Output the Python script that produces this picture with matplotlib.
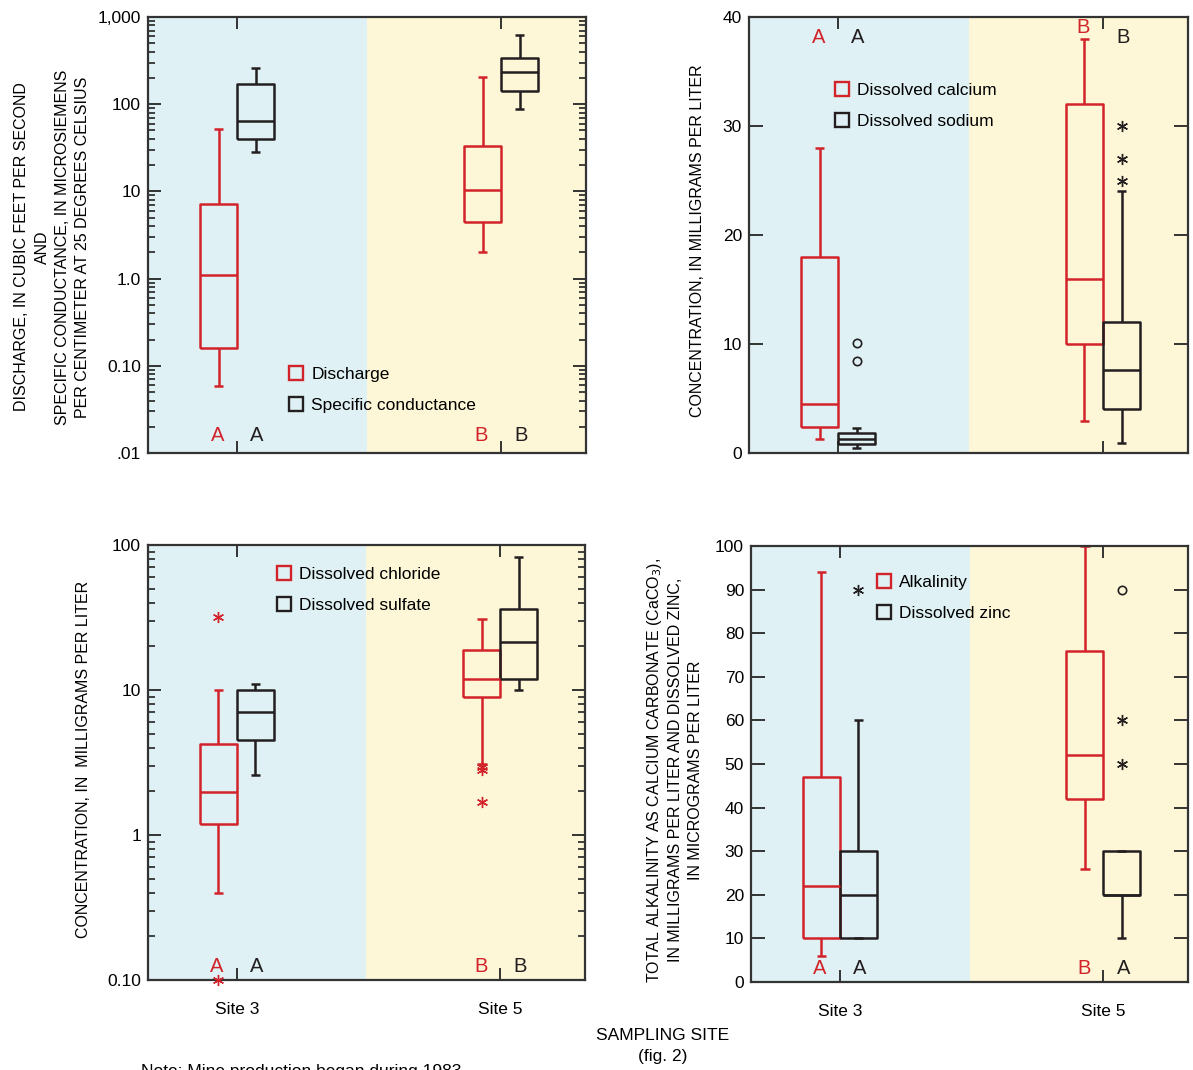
import numpy as np
import matplotlib
matplotlib.use('Agg')
import matplotlib.pyplot as plt
from matplotlib.lines import Line2D
from matplotlib.ticker import LogLocator, FixedLocator, FixedFormatter, NullFormatter
from matplotlib.transforms import blended_transform_factory

plt.rcParams['font.family'] = ['Liberation Sans', 'DejaVu Sans']

RED = '#d2232a'
BLK = '#231f20'
BLUE_BG = '#dff1f4'
YEL_BG = '#fdf6d7'
SPINE = '#333333'

sites = ['Site 3', 'Site 5']

# box stats per site: [whisker low, q1, median, q3, whisker high]
discharge = [[0.059, 0.16, 1.1, 7.2, 52], [2.0, 4.5, 10.4, 33, 204]]
conductance = [[28, 40, 65, 170, 259], [89, 141, 235, 337, 622]]
calcium = [[1.3, 2.4, 4.5, 18, 28], [2.9, 10, 16, 32, 38]]
sodium = [[0.5, 0.85, 1.3, 1.8, 2.3], [0.9, 4.0, 7.6, 12, 24]]
chloride = [[0.40, 1.2, 1.98, 4.26, 10], [3.1, 8.9, 12, 19, 31]]
sulfate = [[2.6, 4.5, 7.0, 10, 11], [10, 12, 21.5, 36, 82]]
alkalinity = [[6, 10, 22, 47, 94], [26, 42, 52, 76, 100]]
zinc = [[10, 10, 20, 30, 60], [10, 20, 20, 30, 30]]

# outliers per site
sodium_circ = [[10.1, 8.4], []]
sodium_ast = [[], [30, 27, 25]]
chloride_ast = [[32, 0.10], [2.95, 2.8, 1.7]]
zinc_ast = [[90], [60, 50]]
zinc_circ = [[], [90]]

# group letters per site (red series, black series)
letters_tl = (['A', 'B'], ['A', 'B'])
letters_tr = (['A', 'B'], ['A', 'B'])
letters_bl = (['A', 'B'], ['A', 'B'])
letters_br = (['A', 'B'], ['A', 'A'])

pos = np.array([1.0, 2.0])
off = 0.07
XL = (0.663, 2.321)
FS = 12.5
LFS = 11.5

W, H = 1193, 1070
fig = plt.figure(figsize=(W / 100, H / 100), dpi=100)


def frac(l, t, r, b):
    return [l / W, 1 - b / H, (r - l) / W, (b - t) / H]


def stats(rows):
    return [dict(whislo=r[0], q1=r[1], med=r[2], q3=r[3], whishi=r[4], fliers=[]) for r in rows]


def draw_boxes(ax, rows, color, x):
    props = dict(color=color, lw=1.8, solid_capstyle='butt')
    ax.bxp(stats(rows), positions=x, widths=0.14, capwidths=0.035, showfliers=False,
           boxprops=props, whiskerprops=props, capprops=props, medianprops=props,
           manage_ticks=False)


def draw_out(ax, vals, x, marker, color):
    for i, v in enumerate(vals):
        if not v:
            continue
        if marker == 'o':
            ax.plot([x[i]] * len(v), v, 'o', ms=6, mfc='none', mec=color, mew=1.2,
                    clip_on=False, zorder=5)
        else:
            ax.plot([x[i]] * len(v), v, ls='none', marker=(6, 2, 0), ms=8, mec=color,
                    mew=1.0, clip_on=False, zorder=5)


def setup(ax, bottom_labels):
    ax.axvspan(XL[0], (XL[0] + XL[1]) / 2, color=BLUE_BG, zorder=0, lw=0)
    ax.axvspan((XL[0] + XL[1]) / 2, XL[1], color=YEL_BG, zorder=0, lw=0)
    ax.set_xlim(*XL)
    ax.set_xticks(pos)
    ax.set_xticklabels(sites if bottom_labels else ['', ''], fontsize=FS)
    ax.tick_params(axis='x', which='both', direction='in', top=True, bottom=True,
                   length=8.6, width=1.4, color=SPINE, pad=16, labelbottom=bottom_labels)
    ax.tick_params(axis='y', which='major', direction='in', left=True, right=True,
                   length=9.5, width=1.4, color=SPINE, labelsize=FS, pad=5)
    ax.tick_params(axis='y', which='minor', direction='in', left=True, right=True,
                   length=5, width=1.3, color=SPINE)
    for s in ax.spines.values():
        s.set_linewidth(1.6)
        s.set_color(SPINE)


def letters(ax, lets, y):
    tr = blended_transform_factory(ax.transData, ax.transAxes)
    for i in range(2):
        yr = y[0][i] if isinstance(y[0], list) else y[0]
        yb = y[1]
        ax.text(pos[i] - 0.075, yr, lets[0][i], color=RED, fontsize=14.5, ha='center',
                va='center', transform=tr, zorder=6)
        ax.text(pos[i] + 0.075, yb, lets[1][i], color=BLK, fontsize=14.5, ha='center',
                va='center', transform=tr, zorder=6)


def legend(ax, labels, x, y):
    h = [Line2D([], [], ls='none', marker='s', ms=10, mfc='none', mec=RED, mew=1.7),
         Line2D([], [], ls='none', marker='s', ms=10, mfc='none', mec=BLK, mew=1.7)]
    ax.legend(h, labels, loc='upper left', bbox_to_anchor=(x, y), frameon=False,
              fontsize=FS, borderpad=0, borderaxespad=0, handlelength=1.0,
              handletextpad=0.4, labelspacing=0.9)


# ---- top left: discharge & conductance
ax1 = fig.add_axes(frac(148, 17, 586, 453))
setup(ax1, False)
ax1.set_yscale('log')
ax1.set_ylim(0.01, 1000)
ax1.yaxis.set_major_locator(FixedLocator([0.01, 0.1, 1, 10, 100, 1000]))
ax1.yaxis.set_major_formatter(FixedFormatter(['.01', '0.10', '1.0', '10', '100', '1,000']))
ax1.yaxis.set_minor_locator(LogLocator(base=10, subs=np.arange(2, 10)))
ax1.yaxis.set_minor_formatter(NullFormatter())
draw_boxes(ax1, discharge, RED, pos - off)
draw_boxes(ax1, conductance, BLK, pos + off)
letters(ax1, letters_tl, (0.041, 0.041))
legend(ax1, ['Discharge', 'Specific conductance'], 0.317, 0.197)

# ---- top right: calcium & sodium
ax2 = fig.add_axes(frac(749, 17, 1188, 453))
setup(ax2, False)
ax2.set_ylim(0, 40)
ax2.set_yticks([0, 10, 20, 30, 40])
ax2.tick_params(axis='y', which='major', length=10)
draw_boxes(ax2, calcium, RED, pos - off)
draw_boxes(ax2, sodium, BLK, pos + off)
draw_out(ax2, sodium_circ, pos + off, 'o', BLK)
draw_out(ax2, sodium_ast, pos + off, '*', BLK)
letters(ax2, letters_tr, ([0.954, 0.977], 0.954))
legend(ax2, ['Dissolved calcium', 'Dissolved sodium'], 0.191, 0.849)

# ---- bottom left: chloride & sulfate
ax3 = fig.add_axes(frac(148, 545, 585, 980))
setup(ax3, True)
ax3.set_yscale('log')
ax3.set_ylim(0.1, 100)
ax3.yaxis.set_major_locator(FixedLocator([0.1, 1, 10, 100]))
ax3.yaxis.set_major_formatter(FixedFormatter(['0.10', '1', '10', '100']))
ax3.yaxis.set_minor_locator(LogLocator(base=10, subs=np.arange(2, 10)))
ax3.yaxis.set_minor_formatter(NullFormatter())
draw_boxes(ax3, chloride, RED, pos - off)
draw_boxes(ax3, sulfate, BLK, pos + off)
draw_out(ax3, chloride_ast, pos - off, '*', RED)
letters(ax3, letters_bl, (0.03, 0.03))
legend(ax3, ['Dissolved chloride', 'Dissolved sulfate'], 0.291, 0.950)

# ---- bottom right: alkalinity & zinc
ax4 = fig.add_axes(frac(751, 546, 1188, 982))
setup(ax4, True)
ax4.set_ylim(0, 100)
ax4.set_yticks(np.arange(0, 101, 10))
ax4.tick_params(axis='y', which='major', length=10)
draw_boxes(ax4, alkalinity, RED, pos - off)
draw_boxes(ax4, zinc, BLK, pos + off)
draw_out(ax4, zinc_ast, pos + off, '*', BLK)
draw_out(ax4, zinc_circ, pos + off, 'o', BLK)
letters(ax4, letters_br, (0.03, 0.03))
legend(ax4, ['Alkalinity', 'Dissolved zinc'], 0.284, 0.934)

# ---- axis titles
fig.text(52 / W, 1 - 247 / H,
         'DISCHARGE, IN CUBIC FEET PER SECOND\nAND\nSPECIFIC CONDUCTANCE, IN MICROSIEMENS\n'
         'PER CENTIMETER AT 25 DEGREES CELSIUS',
         rotation=90, ha='center', va='center', multialignment='center', fontsize=LFS,
         linespacing=1.42)
fig.text(697 / W, 1 - 241 / H, 'CONCENTRATION, IN MILLIGRAMS PER LITER', rotation=90,
         ha='center', va='center', fontsize=LFS)
fig.text(84 / W, 1 - 759 / H, 'CONCENTRATION, IN  MILLIGRAMS PER LITER', rotation=90,
         ha='center', va='center', fontsize=LFS)
fig.text(674 / W, 1 - 770 / H,
         'TOTAL ALKALINITY AS CALCIUM CARBONATE (CaCO$_3$),\n'
         'IN MILLIGRAMS PER LITER AND DISSOLVED ZINC,\nIN MICROGRAMS PER LITER',
         rotation=90, ha='center', va='center', multialignment='center', fontsize=LFS,
         linespacing=1.35)
fig.text(663 / W, 1 - 1046 / H, 'SAMPLING SITE\n(fig. 2)', ha='center', va='center',
         fontsize=FS, linespacing=1.45)
fig.text(141 / W, 1 - 1064 / H, 'Note: Mine production began during 1983', ha='left',
         va='top', fontsize=FS)

fig.savefig('out.png', dpi=100)
